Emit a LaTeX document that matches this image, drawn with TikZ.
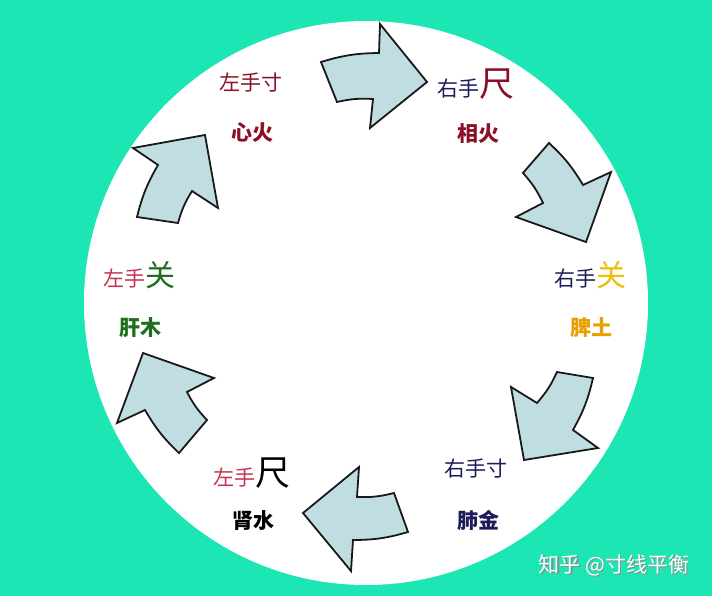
\documentclass[tikz,border=0pt]{standalone}
\usepackage{fontspec}
\newfontfamily\cjk{Noto Sans CJK SC}
\definecolor{bgteal}{RGB}{28,230,180}
\definecolor{arrowfill}{RGB}{192,222,226}
\definecolor{darkred}{RGB}{140,16,36}
\definecolor{navy}{RGB}{28,28,92}
\definecolor{gold}{RGB}{236,190,10}
\definecolor{orangegold}{RGB}{232,160,0}
\definecolor{pinkred}{RGB}{196,52,80}
\definecolor{leafgreen}{RGB}{30,110,30}
\tikzset{
  curvedarrow/.style={fill=arrowfill, draw=black!90, line width=1.8pt, line join=miter},
  lbl/.style={anchor=base, inner sep=0pt, font=\cjk\fontsize{21}{21}\selectfont},
  organ/.style={anchor=base, inner sep=0pt, font=\cjk\bfseries\fontsize{21}{21}\selectfont},
}
\begin{document}
\begin{tikzpicture}[x=1pt,y=-1pt]
\fill[bgteal] (0,0) rectangle (712,596);
\useasboundingbox (0,0) rectangle (712,596);
\fill[white] (366,303) circle[radius=282];

% arrows: outer tail, outer notch, outer corner, tip, inner corner, inner notch, inner tail
\draw[curvedarrow] (321,62) to[bend left=8] (379,53) -- (380,24) -- (427,82) -- (370,128) -- (373,99) to[bend right=8] (337,102) -- cycle;
\draw[curvedarrow] (549,143) to[bend left=8] (583,185) -- (611,172) -- (586,242) -- (516,217) -- (543,203) to[bend right=8] (523,173) -- cycle;
\draw[curvedarrow] (593,378) to[bend left=8] (573,430) -- (598,448) -- (524,460) -- (511,387) -- (537,403) to[bend right=8] (557,372) -- cycle;
\draw[curvedarrow] (408,532) to[bend left=8] (353,540) -- (351,571) -- (303,513) -- (359,467) -- (357,497) to[bend right=8] (394,493) -- cycle;
\draw[curvedarrow] (179,453) to[bend left=8] (145,410) -- (117,423) -- (143,353) -- (214,378) -- (187,392) to[bend right=8] (207,420) -- cycle;
\draw[curvedarrow] (137,217) to[bend left=8] (158,165) -- (133,148) -- (205,135) -- (218,208) -- (192,191) to[bend right=8] (178,223) -- cycle;

% labels
\node[lbl, text=darkred] (lcun) at (251,91) {左手寸};
\node[organ, text=darkred] (xin) at (252,141) {心火};
\node[lbl, text=navy] (rchi) at (476,97) {右手{\color{darkred}\fontsize{35}{35}\selectfont 尺}};
\node[organ, text=darkred] (xiang) at (478,142) {相火};
\node[lbl, text=navy] (rguan) at (590,286) {右手{\color{gold}\fontsize{30}{30}\selectfont 关}};
\node[organ, text=orangegold] (pi) at (591,335) {脾土};
\node[lbl, text=navy] (rcun) at (476,476) {右手寸};
\node[organ, text=navy] (fei) at (478,528) {肺金};
\node[lbl, text=pinkred] (lchi) at (252,485) {左手{\color{black}\fontsize{35}{35}\selectfont 尺}};
\node[organ, text=black] (shen) at (253,528) {肾水};
\node[lbl, text=pinkred] (lguan) at (139,286) {左手{\color{leafgreen}\fontsize{30}{30}\selectfont 关}};
\node[organ, text=leafgreen] (gan) at (140,335) {肝木};

% watermark
\node[anchor=base, inner sep=0pt, text=black!45, font=\cjk\fontsize{21}{21}\selectfont] (wms) at (615.5,573.5) {知乎 @寸线平衡};
\node[anchor=base, inner sep=0pt, text=white, font=\cjk\fontsize{21}{21}\selectfont] (wm) at (614,572) {知乎 @寸线平衡};
\end{tikzpicture}
\end{document}
